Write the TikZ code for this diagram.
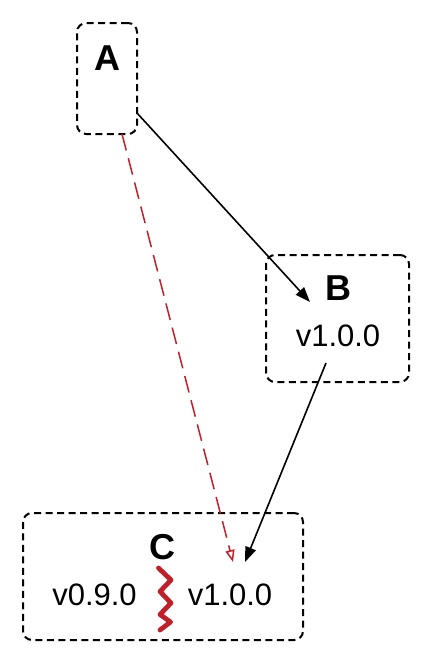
\documentclass[tikz,border=0pt]{standalone}
\usepackage{fontspec}
\setmainfont{Liberation Sans}
\usetikzlibrary{arrows.meta}
\definecolor{conflictred}{RGB}{192,32,42}
\tikzset{
  pkgbox/.style={draw=black, dashed, dash pattern=on 7pt off 4.5pt, line width=2pt, rounded corners=9pt, inner sep=0pt},
  pkgname/.style={font=\fontsize{36}{40}\selectfont\bfseries, anchor=base, inner sep=0pt},
  ver/.style={font=\fontsize{31}{36}\selectfont, anchor=base, inner sep=0pt},
  dep/.style={line width=1.6pt, -{Triangle[length=15pt,width=11pt]}},
  weakdep/.style={conflictred, line width=1.5pt, dash pattern=on 17pt off 8pt, -{Triangle[open,length=12pt,width=9pt]}},
}
\begin{document}
\begin{tikzpicture}[x=1pt,y=-1pt]
\useasboundingbox (0,0) rectangle (432,664);
% boxes
\node[pkgbox, minimum width=60pt, minimum height=111pt] (A) at (107,78.5) {};
\node[pkgbox, minimum width=143pt, minimum height=127pt] (B) at (337.5,318.5) {};
\node[pkgbox, minimum width=280pt, minimum height=127pt] (C) at (163,576.5) {};
% labels
\node[pkgname] (Alab) at (107,70) {A};
\node[pkgname] (Blab) at (338,300) {B};
\node[ver] (Bver) at (338,346) {v1.0.0};
\node[pkgname] (Clab) at (162,559) {C};
\node[ver] (Cold) at (94.5,605) {v0.9.0};
\node[ver] (Cnew) at (230,605) {v1.0.0};
% connector end points
\coordinate (a1) at (137,113);
\coordinate (b1) at (310,302);
\coordinate (b2) at (326,363);
\coordinate (c1) at (245,562);
\coordinate (a2) at (122,134);
\coordinate (c2) at (233,562);
% connectors
\draw[dep] (a1) -- (b1);
\draw[dep] (b2) -- (c1);
\draw[weakdep] (a2) -- (c2);
% conflict squiggle
\draw[conflictred, line width=4.8pt, line cap=round, line join=round]
  (158.5,568) -- (171,580) -- (160,591.5) -- (171,603) -- (160,614.5) -- (170.5,622) -- (160,630);
\end{tikzpicture}
\end{document}
